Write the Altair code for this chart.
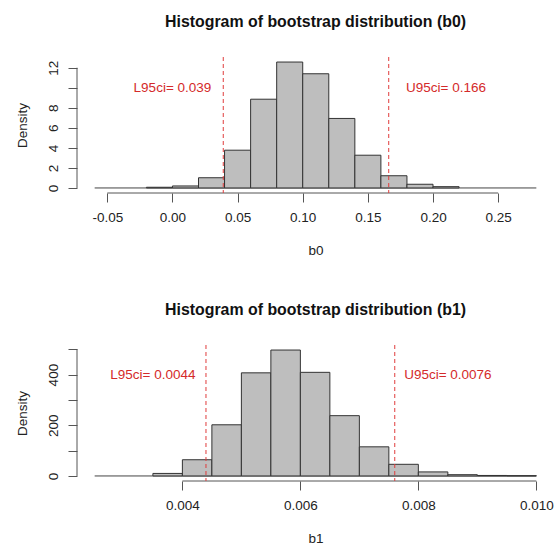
import altair as alt
import pandas as pd

FONT = "Liberation Sans"

# ---- panel b0 ----
b0_breaks = [-0.02, 0.00, 0.02, 0.04, 0.06, 0.08, 0.10, 0.12, 0.14, 0.16, 0.18, 0.20, 0.22]
b0_density = [0.07, 0.20, 1.02, 3.77, 8.86, 12.57, 11.40, 6.94, 3.27, 1.22, 0.37, 0.13]
b0_ci = [0.039, 0.166]
b0_ci_text = ["L95ci= 0.039", "U95ci= 0.166"]
b0_text_x = [0.0, 0.21]
b0_text_y = [10, 10]
b0_xticks = [-0.05, 0.00, 0.05, 0.10, 0.15, 0.20, 0.25]
b0_yticks = [0, 2, 4, 6, 8, 10, 12]
b0_ylabels = [0, 2, 4, 6, 8, 12]
b0_xlim = [-0.0597, 0.2793]

# ---- panel b1 ----
b1_breaks = [0.0035, 0.0040, 0.0045, 0.0050, 0.0055, 0.0060, 0.0065, 0.0070,
             0.0075, 0.0080, 0.0085, 0.0090, 0.0095, 0.0100]
b1_density = [10, 64, 202, 407, 497, 409, 238, 115, 46, 16, 5, 2, 1]
b1_ci = [0.0044, 0.0076]
b1_ci_text = ["L95ci= 0.0044", "U95ci= 0.0076"]
b1_text_x = [0.0035, 0.0085]
b1_text_y = [400, 400]
b1_xticks = [0.004, 0.006, 0.008, 0.010]
b1_yticks = [0, 100, 200, 300, 400, 500]
b1_ylabels = [0, 200, 400]
b1_xlim = [0.002513, 0.0100]

W, H = 477, 136
AXIS_COL = "#555555"
LABEL_COL = "#222222"
FS = 13.5


def panel(breaks, dens, ci, ci_text, tx, ty, xticks, yticks, ylabels, xlim, xfmt, title, xtitle):
    bars = pd.DataFrame({"x": breaks[:-1], "x2": breaks[1:], "d": dens, "z": [0] * len(dens)})
    ymax = max(dens)
    ydom = [-0.04 * ymax, 1.04 * ymax]
    ext = 0.04 * (xlim[1] - xlim[0])
    xdom = [xlim[0] - ext, xlim[1] + ext]
    xs = alt.Scale(domain=xdom, nice=False, zero=False)
    ys = alt.Scale(domain=ydom, nice=False, zero=False)

    lab_list = "[" + ",".join(str(v) for v in ylabels) + "]"
    xaxis = alt.Axis(
        values=xticks, domain=False, grid=False, tickSize=9, tickColor=AXIS_COL,
        labelExpr=f"datum.value < 0 ? '-' + format(-datum.value, '{xfmt}') : format(datum.value, '{xfmt}')",
        labelFont=FONT, labelFontSize=FS, labelColor=LABEL_COL, labelPadding=15,
        labelBaseline="middle", labelFlush=False, labelOverlap=False,
        title=xtitle, titleFont=FONT, titleFontSize=FS, titleFontWeight="normal",
        titleColor=LABEL_COL, titleY=57.5, titleBaseline="middle",
    )
    yaxis = alt.Axis(
        values=yticks, domain=False, grid=False, tickSize=9, tickColor=AXIS_COL,
        labelExpr=f"indexof({lab_list}, datum.value) >= 0 ? datum.label : ''",
        labelFont=FONT, labelFontSize=FS, labelColor=LABEL_COL, labelAngle=270,
        labelAlign="center", labelBaseline="bottom", labelPadding=8,
        labelFlush=False, labelOverlap=False,
        title="Density", titleFont=FONT, titleFontSize=FS, titleFontWeight="normal",
        titleColor=LABEL_COL, titleAngle=270, titleX=-55, titleY=H / 2,
        titleAlign="center", titleBaseline="middle",
    )

    def X(f):
        return alt.X(f, scale=xs, axis=xaxis)

    def Y(f):
        return alt.Y(f, scale=ys, axis=yaxis)

    base_line = alt.Chart(pd.DataFrame({"a": [xlim[0]], "b": [xlim[1]], "y": [0]})).mark_rule(
        color="#444444", strokeWidth=1
    ).encode(x=X("a:Q"), x2="b:Q", y=Y("y:Q"))
    rects = alt.Chart(bars).mark_rect(fill="#bebebe", stroke="#333333", strokeWidth=1).encode(
        x=X("x:Q"), x2="x2:Q", y=Y("d:Q"), y2="z:Q",
    )
    xline = alt.Chart(pd.DataFrame({"a": [min(xticks)], "b": [max(xticks)]})).mark_rule(
        color=AXIS_COL, strokeWidth=1, clip=False
    ).encode(x=X("a:Q"), x2="b:Q", y=alt.value(H))
    yline = alt.Chart(pd.DataFrame({"a": [min(yticks)], "b": [max(yticks)]})).mark_rule(
        color=AXIS_COL, strokeWidth=1, clip=False
    ).encode(y=Y("a:Q"), y2="b:Q", x=alt.value(0))
    ci_rules = alt.Chart(pd.DataFrame({"c": ci})).mark_rule(
        color="#e03c3c", strokeWidth=1, strokeDash=[4, 3]
    ).encode(x=X("c:Q"), y=alt.value(0), y2=alt.value(H))
    texts = alt.Chart(pd.DataFrame({"t": ci_text, "x": tx, "y": ty})).mark_text(
        font=FONT, fontSize=FS, color="#d42a2a", align="center", baseline="middle"
    ).encode(x=X("x:Q"), y=Y("y:Q"), text="t:N")
    return alt.layer(base_line, rects, xline, yline, ci_rules, texts).properties(
        width=W, height=H,
        title=alt.TitleParams(
            title, font=FONT, fontSize=15.9, fontWeight="bold", color="#111111",
            anchor="middle", frame="group", offset=27,
        ),
    )


p0 = panel(b0_breaks, b0_density, b0_ci, b0_ci_text, b0_text_x, b0_text_y,
           b0_xticks, b0_yticks, b0_ylabels, b0_xlim, ".2f",
           "Histogram of bootstrap distribution (b0)", "b0")
p1 = panel(b1_breaks, b1_density, b1_ci, b1_ci_text, b1_text_x, b1_text_y,
           b1_xticks, b1_yticks, b1_ylabels, b1_xlim, ".3f",
           "Histogram of bootstrap distribution (b1)", "b1")

chart = alt.vconcat(p0, p1, spacing=44).properties(
    padding={"left": 15, "top": 13, "right": 0, "bottom": 0}
).configure(background="white", view=alt.ViewConfig(stroke=None))

chart.save("out.html", embed_options={"renderer": "svg", "actions": False})
